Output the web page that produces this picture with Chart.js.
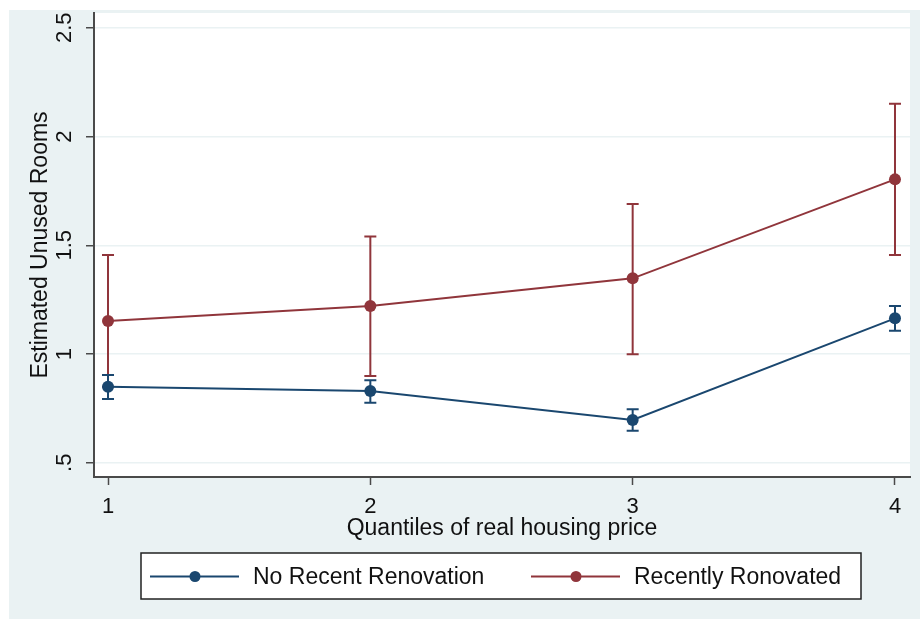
<!DOCTYPE html>
<html>
<head>
<meta charset="utf-8">
<title>Estimated Unused Rooms by housing price quantile</title>
<script src="https://cdn.jsdelivr.net/npm/chart.js@4/dist/chart.umd.min.js"></script>
<style>
  html, body { margin: 0; padding: 0; background: #ffffff; }
  #wrap { width: 920px; height: 619px; }
  canvas { display: block; }
</style>
</head>
<body>
<div id="wrap"><canvas id="chart" width="920" height="619"></canvas></div>
<script>
// Quantiles of real housing price
const quantiles = [1, 2, 3, 4];

// No recent renovation: point estimates and confidence bounds
const noRenovMean  = [0.850, 0.830, 0.697, 1.164];
const noRenovLower = [0.793, 0.776, 0.647, 1.107];
const noRenovUpper = [0.903, 0.879, 0.746, 1.221];

// Recently renovated: point estimates and confidence bounds
const renovMean  = [1.152, 1.221, 1.348, 1.803];
const renovLower = [0.849, 0.899, 0.999, 1.455];
const renovUpper = [1.455, 1.540, 1.690, 2.151];

// Axis ticks and labels
const yTickValues = [0.5, 1, 1.5, 2, 2.5];
const yTickLabels = ['.5', '1', '1.5', '2', '2.5'];
const xTickValues = [1, 2, 3, 4];
const xTickLabels = ['1', '2', '3', '4'];

const seriesLabels = ['No Recent Renovation', 'Recently Ronovated'];
const NAVY = '#1a476f';
const MAROON = '#90353b';
const BG = '#eaf2f3';
const AXIS = '#4a4a4a';
const FONT = '"Liberation Sans", Arial, sans-serif';

function toPoints(xs, ys) {
  return xs.map((x, i) => ({ x: x, y: ys[i] }));
}

// Background, plot region, confidence caps and the framed legend
const framePlugin = {
  id: 'frame',
  beforeDraw(chart) {
    const { ctx, chartArea } = chart;
    ctx.save();
    ctx.fillStyle = '#ffffff';
    ctx.fillRect(0, 0, chart.width, chart.height);
    ctx.fillStyle = BG;
    ctx.fillRect(9, 10, chart.width - 9, chart.height - 10);
    ctx.fillStyle = '#ffffff';
    ctx.fillRect(chartArea.left, chartArea.top, chartArea.right - chartArea.left, chartArea.bottom - chartArea.top);
    ctx.restore();
  },
  beforeDatasetsDraw(chart) {
    const { ctx } = chart;
    const xs = chart.scales.x, ys = chart.scales.y;
    const capHalf = 6;
    ctx.save();
    for (let d = chart.data.datasets.length - 1; d >= 0; d--) {
      const ds = chart.data.datasets[d];
      ctx.strokeStyle = ds.borderColor;
      ctx.lineWidth = 2;
      ds.data.forEach((p, i) => {
        const px = xs.getPixelForValue(p.x);
        const yLo = ys.getPixelForValue(ds.errLow[i]);
        const yHi = ys.getPixelForValue(ds.errHigh[i]);
        ctx.beginPath();
        ctx.moveTo(px, yHi); ctx.lineTo(px, yLo);
        ctx.moveTo(px - capHalf, yHi); ctx.lineTo(px + capHalf, yHi);
        ctx.moveTo(px - capHalf, yLo); ctx.lineTo(px + capHalf, yLo);
        ctx.stroke();
      });
    }
    ctx.restore();
  },
  afterDraw(chart) {
    const { ctx } = chart;
    ctx.save();
    const bx = 141, by = 553, bw = 720, bh = 46;
    ctx.fillStyle = '#ffffff';
    ctx.fillRect(bx, by, bw, bh);
    ctx.strokeStyle = '#222222';
    ctx.lineWidth = 1.5;
    ctx.strokeRect(bx, by, bw, bh);
    const starts = [150, 531];
    const cy = 576.5;
    chart.data.datasets.forEach((ds, i) => {
      const x0 = starts[i];
      ctx.strokeStyle = ds.borderColor;
      ctx.lineWidth = 2;
      ctx.beginPath();
      ctx.moveTo(x0, cy); ctx.lineTo(x0 + 89, cy);
      ctx.stroke();
      ctx.fillStyle = ds.borderColor;
      ctx.beginPath();
      ctx.arc(x0 + 45, cy, 5.5, 0, Math.PI * 2);
      ctx.fill();
      ctx.fillStyle = '#111111';
      ctx.font = '23px ' + FONT;
      ctx.textBaseline = 'middle';
      ctx.textAlign = 'left';
      ctx.fillText(ds.label, x0 + 103, cy + 1);
    });
    ctx.restore();
  }
};

const datasets = [
  {
    label: seriesLabels[0],
    data: toPoints(quantiles, noRenovMean),
    errLow: noRenovLower,
    errHigh: noRenovUpper,
    borderColor: NAVY,
    backgroundColor: NAVY,
    pointBackgroundColor: NAVY,
    borderWidth: 2,
    pointRadius: 6,
    pointBorderWidth: 0,
    tension: 0
  },
  {
    label: seriesLabels[1],
    data: toPoints(quantiles, renovMean),
    errLow: renovLower,
    errHigh: renovUpper,
    borderColor: MAROON,
    backgroundColor: MAROON,
    pointBackgroundColor: MAROON,
    borderWidth: 2,
    pointRadius: 6,
    pointBorderWidth: 0,
    tension: 0
  }
];

new Chart(document.getElementById('chart'), {
  type: 'line',
  data: { datasets: datasets },
  plugins: [framePlugin],
  options: {
    responsive: false,
    animation: false,
    devicePixelRatio: 1,
    layout: { padding: { left: 0, top: 13, right: 10, bottom: 72 } },
    plugins: { legend: { display: false }, tooltip: { enabled: false } },
    scales: {
      x: {
        type: 'linear',
        min: 0.9466,
        max: 4.0572,
        afterBuildTicks(scale) { scale.ticks = xTickValues.map(v => ({ value: v })); },
        afterFit(scale) { scale.height = 70; scale.paddingLeft = 0; scale.paddingRight = 0; },
        ticks: {
          callback: (v) => xTickLabels[xTickValues.indexOf(v)],
          font: { family: FONT, size: 22 },
          color: '#111111',
          padding: 9,
          maxRotation: 0,
          minRotation: 0
        },
        grid: { drawOnChartArea: false, drawTicks: true, tickLength: 8, tickColor: AXIS, tickWidth: 1.5 },
        border: { color: AXIS, width: 2 },
        title: {
          display: true,
          text: 'Quantiles of real housing price',
          font: { family: FONT, size: 23 },
          color: '#111111',
          padding: { top: 0, bottom: 5 }
        }
      },
      y: {
        type: 'linear',
        min: 0.4345,
        max: 2.568,
        afterBuildTicks(scale) { scale.ticks = yTickValues.map(v => ({ value: v })); },
        afterFit(scale) { scale.width = 94; scale.paddingTop = 0; scale.paddingBottom = 0; },
        ticks: {
          callback: (v) => yTickLabels[yTickValues.indexOf(v)],
          font: { family: FONT, size: 22 },
          color: '#111111',
          padding: 6,
          crossAlign: 'center',
          minRotation: 90,
          maxRotation: 90
        },
        grid: { color: BG, lineWidth: 1.5, drawTicks: true, tickLength: 8, tickColor: AXIS, tickWidth: 1.5 },
        border: { color: AXIS, width: 2 },
        title: {
          display: true,
          text: 'Estimated Unused Rooms',
          font: { family: FONT, size: 23 },
          color: '#111111',
          padding: { top: 27, bottom: 0 }
        }
      }
    }
  }
});
</script>
</body>
</html>
